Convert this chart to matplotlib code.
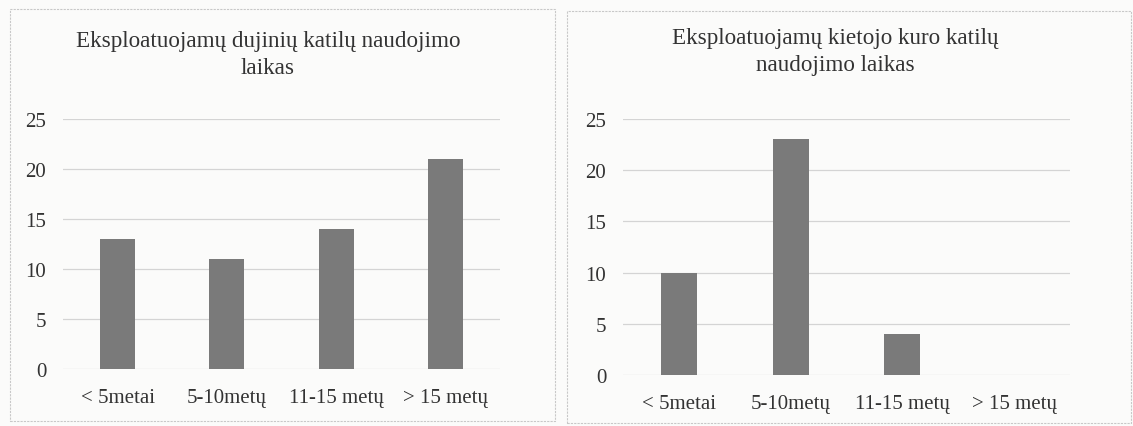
import matplotlib.pyplot as plt
from matplotlib.patches import Rectangle

# Data
categories = ['< 5metai', '5-10metų', '11-15 metų', '> 15 metų']
gas_boilers = [13, 11, 14, 21]
solid_fuel_boilers = [10, 23, 4, 0]
titles = ['Eksploatuojamų dujinių katilų naudojimo\nlaikas',
          'Eksploatuojamų kietojo kuro katilų\nnaudojimo laikas']

plt.rcParams['font.family'] = ['Liberation Serif', 'DejaVu Serif']

W, H = 1133, 427
fig = plt.figure(figsize=(W / 100, H / 100), dpi=100)
fig.patch.set_facecolor('#fbfbfa')

def px(x0, y0, x1, y1):
    # pixel box -> figure fraction [left, bottom, width, height]
    return [x0 / W, 1 - y1 / H, (x1 - x0) / W, (y1 - y0) / H]

# panel frames
for (x0, y0, x1, y1) in [(10, 10, 555, 422), (567, 12, 1131, 424)]:
    fig.patches.append(Rectangle((x0 / W, 1 - y1 / H), (x1 - x0) / W, (y1 - y0) / H,
                                 transform=fig.transFigure, fill=False,
                                 edgecolor='#c8c8c8', linewidth=0.8, linestyle=(0, (2, 1))))

panels = [
    (gas_boilers, titles[0], (63, 120, 500, 370), 268, 55, 14),
    (solid_fuel_boilers, titles[1], (623, 120, 1070, 376), 835, 52, 14),
]

for values, title, box, tx, ty, xpad in panels:
    ax = fig.add_axes(px(*box))
    ax.set_facecolor('none')
    ax.bar(range(len(categories)), values, width=0.32, color='#7a7a7a', zorder=2)
    ax.set_xlim(-0.5, len(categories) - 0.5)
    ax.set_ylim(0, 25)
    ax.set_yticks([0, 5, 10, 15, 20, 25])
    ax.set_xticks(range(len(categories)))
    ax.set_xticklabels(categories)
    ax.grid(axis='y', color='#d4d4d4', linewidth=0.9, zorder=0)
    for s in ax.spines.values():
        s.set_visible(False)
    ax.tick_params(length=0, labelsize=15, colors='#333333')
    ax.tick_params(axis='x', pad=xpad)
    ax.tick_params(axis='y', pad=12)
    fig.text(tx / W, 1 - ty / H, title, ha='center', va='center', fontsize=16.7,
             color='#333333', linespacing=1.35)

plt.savefig('out.png', dpi=100)
